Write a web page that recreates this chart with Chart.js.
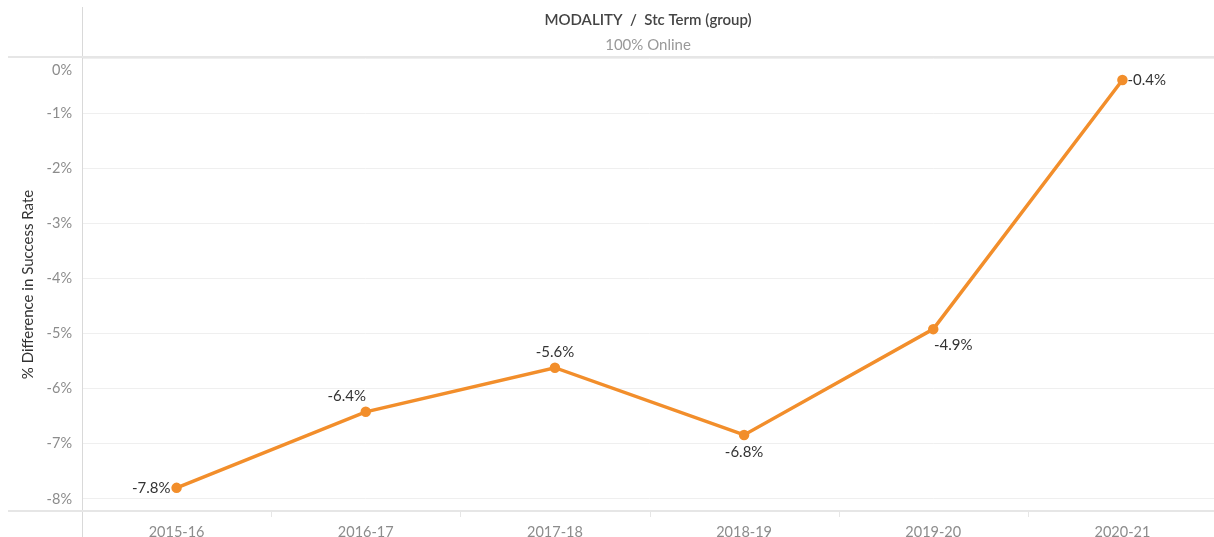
<!DOCTYPE html>
<html>
<head>
<meta charset="utf-8">
<script src="https://cdn.jsdelivr.net/npm/chart.js@4/dist/chart.umd.min.js"></script>
<style>
  html, body { margin: 0; padding: 0; background: #fff; }
  #wrap { width: 1214px; height: 537px; overflow: hidden; }
</style>
</head>
<body>
<div id="wrap"><canvas id="chart" width="1224" height="537"></canvas></div>
<script>
const terms = ["2015-16", "2016-17", "2017-18", "2018-19", "2019-20", "2020-21"];
const diffPct = [-7.8, -6.42, -5.62, -6.84, -4.92, -0.4];
const yTicks = [0, -1, -2, -3, -4, -5, -6, -7, -8];
const headerTitle = "MODALITY  /  Stc Term (group)";
const headerSub = "100% Online";
const yTitle = "% Difference in Success Rate";

const FONT = "Lato, 'Open Sans', sans-serif";
// where each value label sits relative to its point
const labelSide = ["left", "aboveLeft", "above", "below", "belowRight", "right"];

const decor = {
  id: "decor",
  afterDraw(chart) {
    const ctx = chart.ctx;
    const a = chart.chartArea;
    const ys = chart.scales.y;
    ctx.save();

    // frame lines
    ctx.strokeStyle = "#d9d9d9";
    ctx.lineWidth = 1;
    ctx.beginPath();
    ctx.moveTo(a.left + 0.5, 7); ctx.lineTo(a.left + 0.5, 537);
    ctx.stroke();
    ctx.strokeStyle = "#e6e6e6";
    ctx.lineWidth = 2;
    ctx.beginPath();
    ctx.moveTo(8, a.top - 1); ctx.lineTo(1214, a.top - 1);
    ctx.moveTo(8, a.bottom); ctx.lineTo(1214, a.bottom);
    ctx.stroke();

    // header
    const cx = (a.left + 1214) / 2;
    ctx.textAlign = "center";
    ctx.textBaseline = "middle";
    ctx.fillStyle = "#444";
    ctx.font = "600 15px " + FONT;
    ctx.fillText(headerTitle, cx, 20);
    ctx.fillStyle = "#999";
    ctx.font = "15px " + FONT;
    ctx.fillText(headerSub, cx, 45);

    // y tick labels
    ctx.textAlign = "right";
    ctx.fillStyle = "#8c8c8c";
    ctx.font = "14.5px " + FONT;
    yTicks.forEach(v => {
      let py = ys.getPixelForValue(v);
      if (v === 0) py += 12;
      ctx.fillText(v + "%", a.left - 10, py);
    });

    // y title
    ctx.save();
    ctx.translate(28, (a.top + a.bottom) / 2);
    ctx.rotate(-Math.PI / 2);
    ctx.textAlign = "center";
    ctx.fillStyle = "#333";
    ctx.font = "15px " + FONT;
    ctx.fillText(yTitle, 0, 0);
    ctx.restore();

    // x separators ticks
    const xs = chart.scales.x;
    ctx.strokeStyle = "#e6e6e6";
    ctx.lineWidth = 1;
    for (let i = 1; i < terms.length; i++) {
      const px = Math.round((xs.getPixelForValue(i - 1) + xs.getPixelForValue(i)) / 2) + 0.5;
      ctx.beginPath(); ctx.moveTo(px, a.bottom + 1); ctx.lineTo(px, a.bottom + 6); ctx.stroke();
    }

    // value labels
    const meta = chart.getDatasetMeta(0);
    ctx.fillStyle = "#333";
    ctx.font = "15px " + FONT;
    meta.data.forEach((pt, i) => {
      const txt = diffPct[i].toFixed(1) + "%";
      const s = labelSide[i];
      let x = pt.x, y = pt.y;
      if (s === "left") { ctx.textAlign = "right"; x -= 6; }
      else if (s === "right") { ctx.textAlign = "left"; x += 5; }
      else if (s === "above") { ctx.textAlign = "center"; y -= 16; }
      else if (s === "aboveLeft") { ctx.textAlign = "center"; x -= 19; y -= 16; }
      else if (s === "below") { ctx.textAlign = "center"; y += 17; }
      else if (s === "belowRight") { ctx.textAlign = "center"; x += 20; y += 16; }
      ctx.fillText(txt, x, y);
    });
    ctx.restore();
  }
};

new Chart(document.getElementById("chart"), {
  type: "line",
  data: {
    labels: terms,
    datasets: [{
      data: diffPct,
      borderColor: "#f28e2b",
      backgroundColor: "#f28e2b",
      borderWidth: 3.5,
      pointRadius: 3.5,
      pointHoverRadius: 3.5,
      tension: 0
    }]
  },
  options: {
    responsive: false,
    animation: false,
    layout: { padding: { top: 58, right: 0, left: 0, bottom: 0 } },
    plugins: { legend: { display: false }, tooltip: { enabled: false } },
    scales: {
      x: {
        offset: true,
        grid: { display: false },
        border: { display: false },
        ticks: { color: "#8c8c8c", font: { family: FONT, size: 14.5 }, padding: 5, maxRotation: 0 },
        afterFit: s => { s.height = 26; }
      },
      y: {
        min: -8.22,
        max: 0,
        afterBuildTicks: s => { s.ticks = yTicks.map(v => ({ value: v })); },
        grid: { color: "#efefef", drawTicks: false },
        border: { display: false },
        ticks: { display: false },
        afterFit: s => { s.width = 82; }
      }
    }
  },
  plugins: [decor]
});
</script>
</body>
</html>
